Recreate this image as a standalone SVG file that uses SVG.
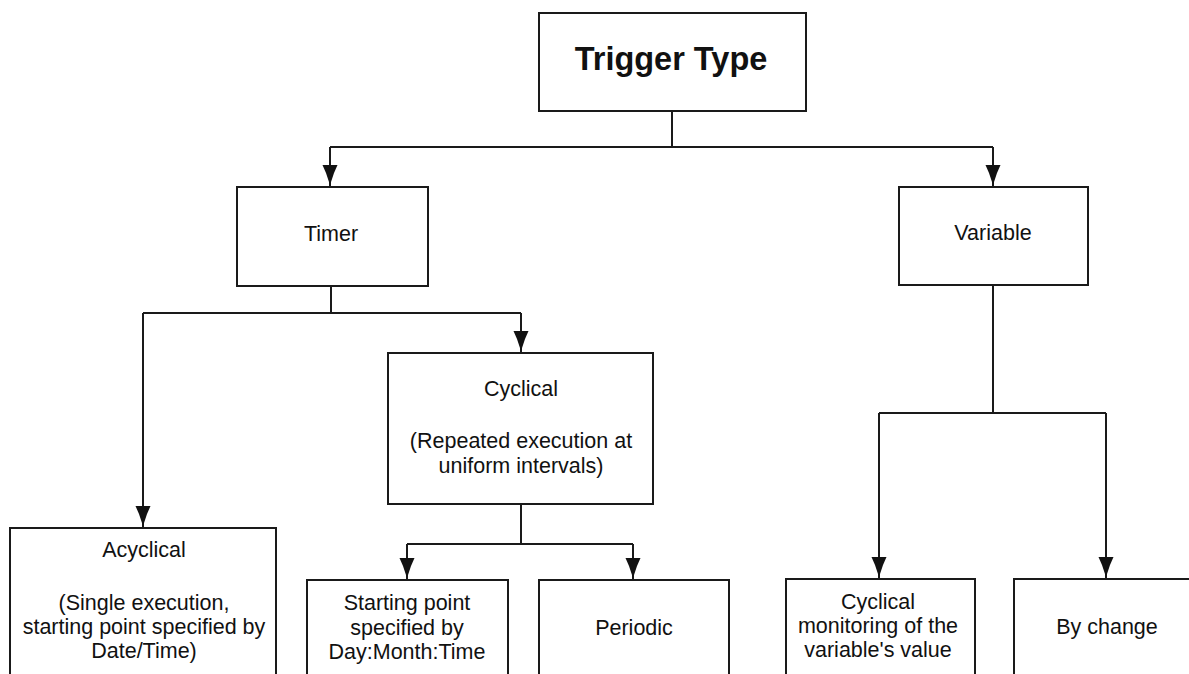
<svg xmlns="http://www.w3.org/2000/svg" width="1189" height="674" viewBox="0 0 1189 674">
  <defs>
    <style>
      .box { fill: #ffffff; stroke: #1a1a1a; stroke-width: 2; }
      .wire { fill: none; stroke: #1a1a1a; stroke-width: 2; }
      .lbl { font-family: "Liberation Sans", Arial, sans-serif; font-size: 21.5px; fill: #111; text-anchor: middle; }
      .title { font-family: "Liberation Sans", Arial, sans-serif; font-size: 32.5px; font-weight: bold; fill: #111; text-anchor: middle; }
    </style>
    <!-- downward arrowhead, sitting just above the end of each connector -->
    <marker id="head" markerUnits="userSpaceOnUse" markerWidth="18" markerHeight="24" viewBox="0 0 18 24" refX="9" refY="23" orient="0">
      <path d="M1.5,1 L16.5,1 L13,9 L9,21 L5,9 Z" fill="#111"/>
    </marker>
  </defs>
  <rect width="1189" height="674" fill="#ffffff"/>

  <g id="connectors">
    <!-- root to first level -->
    <path class="wire" d="M672,111 V147 M330,147 H993"/>
    <path class="wire" d="M330,147 V187" marker-end="url(#head)"/>
    <path class="wire" d="M993,147 V187" marker-end="url(#head)"/>
    <!-- Timer branch -->
    <path class="wire" d="M331,286 V313 M143,313 H521"/>
    <path class="wire" d="M143,313 V528" marker-end="url(#head)"/>
    <path class="wire" d="M521,313 V353" marker-end="url(#head)"/>
    <!-- Cyclical branch -->
    <path class="wire" d="M521,504 V544 M407,544 H633"/>
    <path class="wire" d="M407,544 V580" marker-end="url(#head)"/>
    <path class="wire" d="M633,544 V580" marker-end="url(#head)"/>
    <!-- Variable branch -->
    <path class="wire" d="M993,285 V413 M879,413 H1106"/>
    <path class="wire" d="M879,413 V579" marker-end="url(#head)"/>
    <path class="wire" d="M1106,413 V579" marker-end="url(#head)"/>
  </g>

  <g id="trigger-type">
    <rect class="box" x="539" y="13" width="267" height="98"/>
    <text class="title" x="671" y="70">Trigger Type</text>
  </g>

  <g id="timer">
    <rect class="box" x="237" y="187" width="191" height="99"/>
    <text class="lbl" x="331" y="241">Timer</text>
  </g>

  <g id="variable">
    <rect class="box" x="899" y="187" width="189" height="98"/>
    <text class="lbl" x="993" y="240">Variable</text>
  </g>

  <g id="acyclical">
    <rect class="box" x="10" y="528" width="266" height="170"/>
    <text class="lbl" x="144" y="557">Acyclical</text>
    <text class="lbl" x="144" y="610">(Single execution,</text>
    <text class="lbl" x="144" y="634">starting point specified by</text>
    <text class="lbl" x="144" y="658">Date/Time)</text>
  </g>

  <g id="cyclical">
    <rect class="box" x="388" y="353" width="265" height="151"/>
    <text class="lbl" x="521" y="396">Cyclical</text>
    <text class="lbl" x="521" y="448">(Repeated execution at</text>
    <text class="lbl" x="521" y="473">uniform intervals)</text>
  </g>

  <g id="starting-point">
    <rect class="box" x="307" y="580" width="201" height="118"/>
    <text class="lbl" x="407" y="610">Starting point</text>
    <text class="lbl" x="407" y="635">specified by</text>
    <text class="lbl" x="407" y="659">Day:Month:Time</text>
  </g>

  <g id="periodic">
    <rect class="box" x="539" y="580" width="190" height="118"/>
    <text class="lbl" x="634" y="635">Periodic</text>
  </g>

  <g id="cyclical-monitoring">
    <rect class="box" x="786" y="579" width="189" height="119"/>
    <text class="lbl" x="878" y="609">Cyclical</text>
    <text class="lbl" x="878" y="633">monitoring of the</text>
    <text class="lbl" x="878" y="657">variable's value</text>
  </g>

  <g id="by-change">
    <rect class="box" x="1014" y="579" width="200" height="119"/>
    <text class="lbl" x="1107" y="634">By change</text>
  </g>
</svg>
